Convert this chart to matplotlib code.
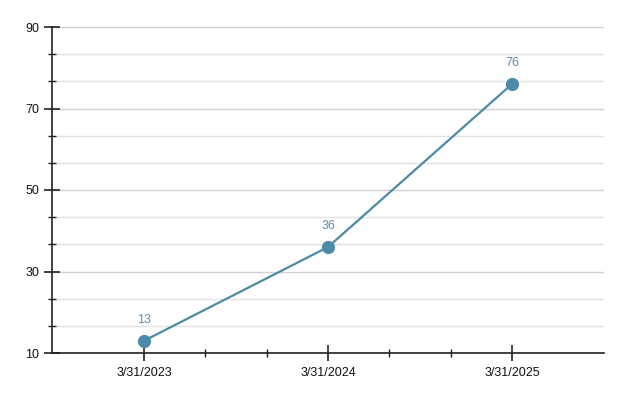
import matplotlib
matplotlib.use("Agg")
import matplotlib.pyplot as plt
from matplotlib.ticker import FixedLocator

plt.rcParams['font.family'] = ['Liberation Sans', 'DejaVu Sans']

categories = ["3/31/2023", "3/31/2024", "3/31/2025"]
values = [13, 36, 76]
y_ticks = [10, 30, 50, 70, 90]

line_color = "#4d8aa8"
label_color = "#5b8fb9"

fig = plt.figure(figsize=(6.24, 4.01), dpi=100)
ax = fig.add_axes([52/624, 1-353/401, (604-52)/624, (353-27)/401])

x = list(range(len(categories)))
ax.plot(x, values, color=line_color, lw=1.6, marker='o', ms=8.5,
        markerfacecolor=line_color, markeredgecolor=line_color, zorder=3)
for xi, v in zip(x, values):
    ax.annotate(str(v), (xi, v), xytext=(0, 10.5), textcoords='offset points',
                ha='center', va='bottom', color=label_color, fontsize=9)

ax.set_xlim(-0.5, len(categories) - 0.5)
ax.set_ylim(y_ticks[0], y_ticks[-1])
ax.set_xticks(x)
ax.set_xticklabels(categories)
minor_x = []
for i in range(len(categories) - 1):
    minor_x += [i + 1/3, i + 2/3]
ax.xaxis.set_minor_locator(FixedLocator(minor_x))
ax.set_yticks(y_ticks)
minor_y = []
for a, b in zip(y_ticks[:-1], y_ticks[1:]):
    step = (b - a) / 3
    minor_y += [a + step, a + 2 * step]
ax.yaxis.set_minor_locator(FixedLocator(minor_y))

ax.grid(axis='y', which='major', color='#d0d0d0', lw=1.0, zorder=0)
ax.grid(axis='y', which='minor', color='#e3e3e3', lw=1.0, zorder=0)
ax.set_axisbelow(True)

for s in ['top', 'right']:
    ax.spines[s].set_visible(False)
for s in ['left', 'bottom']:
    ax.spines[s].set_color('#222222')
    ax.spines[s].set_linewidth(1.2)

ax.tick_params(axis='both', which='major', direction='inout', length=12, width=1.2,
               color='#222222', labelsize=9, labelcolor='#111111')
ax.tick_params(axis='y', which='major', pad=3)
ax.tick_params(axis='x', which='major', pad=4)
ax.tick_params(axis='both', which='minor', direction='inout', length=6, width=1.0,
               color='#222222')

fig.savefig("out.png", dpi=100)
